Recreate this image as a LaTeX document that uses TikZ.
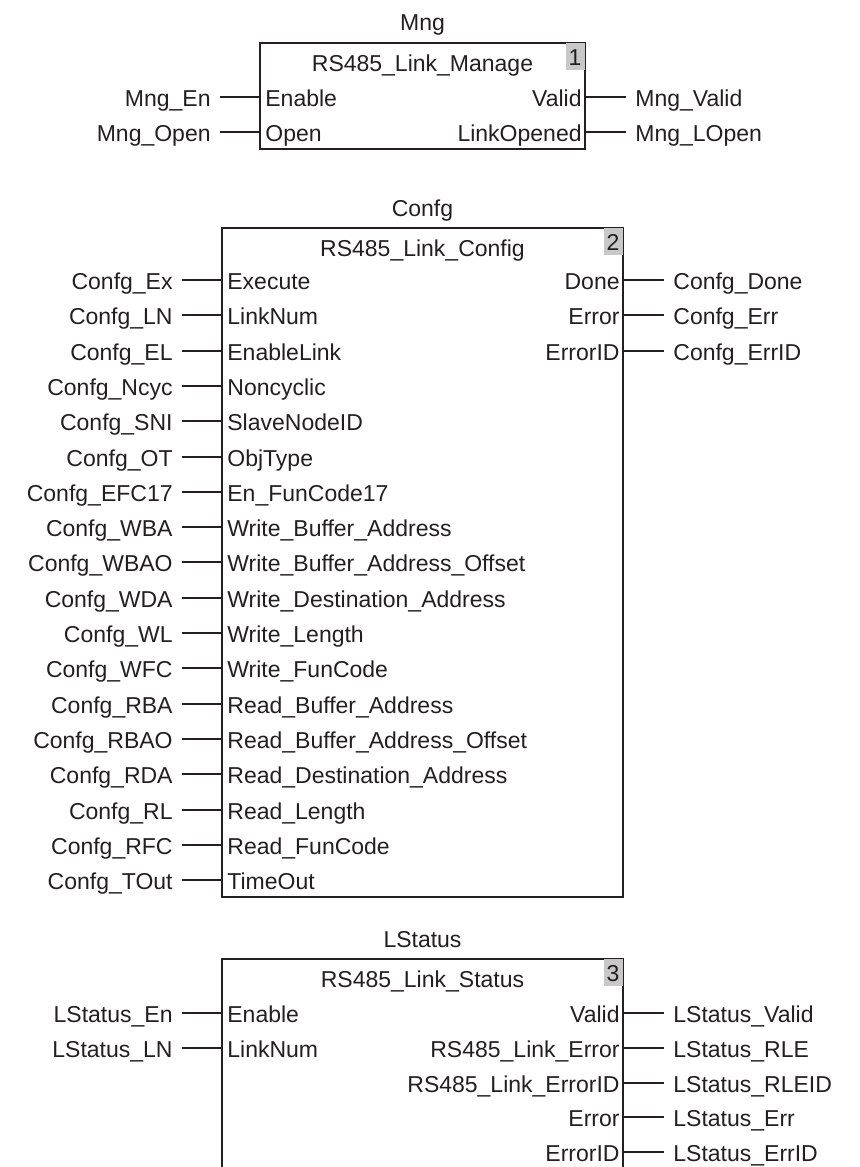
\documentclass[tikz,border=0pt]{standalone}
\usepackage{fontspec}
\setmainfont{Liberation Sans}
\definecolor{fbink}{RGB}{35,31,32}
\definecolor{fbgray}{RGB}{200,200,200}

\begin{document}
\begin{tikzpicture}[x=0.5pt,y=-0.5pt,
  fbtext/.style={font=\fontsize{11.5}{13}\selectfont,text=fbink,text height=9pt,text depth=0pt,inner ysep=0pt},
  fbin/.style={fbtext,anchor=east,inner xsep=4.5pt},
  fbout/.style={fbtext,anchor=west,inner xsep=4.5pt},
  fbpinL/.style={fbtext,anchor=west,inner xsep=2.5pt},
  fbpinR/.style={fbtext,anchor=east,inner xsep=1.5pt},
  fblock/.style={draw=fbink,line width=1pt,inner sep=0pt},
  fbnum/.style={fbtext,fill=fbgray,minimum width=9.5pt,minimum height=13.5pt,inner sep=0pt,anchor=north east},
  wire/.style={draw=fbink,line width=0.8pt}]
  \useasboundingbox (0,0) rectangle (859,1167);
  \clip (0,0) rectangle (859,1167);

  % block 1: Mng
  \node[fblock,minimum width=162.5pt,minimum height=53pt] (mng) at (422.5,96) {};
  \node[fbtext] (mngT) at (422.5,22) {Mng};
  \node[fbtext] (mngH) at (422.5,62) {RS485\_Link\_Manage};
  \node[fbnum] (mngN) at ([xshift=-0.5pt,yshift=-0.5pt]mng.north east) {1};
  \foreach \lbl/\pin [count=\i, evaluate=\i as \y using 97+35*(\i-1)] in
    {Mng\_En/Enable, Mng\_Open/Open} {
    \node[fbin] (mngIn\i) at (220,\y) {\lbl};
    \node[fbpinL] (mngPinL\i) at (260,\y) {\pin};
    \draw[wire] (mngIn\i.east) -- (mngPinL\i.west);
  }
  \foreach \lbl/\pin [count=\i, evaluate=\i as \y using 97+35*(\i-1)] in
    {Mng\_Valid/Valid, Mng\_LOpen/LinkOpened} {
    \node[fbpinR] (mngPinR\i) at (585,\y) {\pin};
    \node[fbout] (mngOut\i) at (626,\y) {\lbl};
    \draw[wire] (mngPinR\i.east) -- (mngOut\i.west);
  }

  % block 2: Confg
  \node[fblock,minimum width=200.5pt,minimum height=334.5pt] (cfg) at (422.5,562.5) {};
  \node[fbtext] (cfgT) at (422.5,207) {Confg};
  \node[fbtext] (cfgH) at (422.5,247) {RS485\_Link\_Config};
  \node[fbnum] (cfgN) at ([xshift=-0.5pt,yshift=-0.5pt]cfg.north east) {2};
  \foreach \lbl/\pin [count=\i, evaluate=\i as \y using round(280+35.3*(\i-1))] in
    {Confg\_Ex/Execute, Confg\_LN/LinkNum, Confg\_EL/EnableLink, Confg\_Ncyc/Noncyclic,
     Confg\_SNI/SlaveNodeID, Confg\_OT/ObjType, Confg\_EFC17/En\_FunCode17,
     Confg\_WBA/Write\_Buffer\_Address, Confg\_WBAO/Write\_Buffer\_Address\_Offset,
     Confg\_WDA/Write\_Destination\_Address, Confg\_WL/Write\_Length,
     Confg\_WFC/Write\_FunCode, Confg\_RBA/Read\_Buffer\_Address,
     Confg\_RBAO/Read\_Buffer\_Address\_Offset, Confg\_RDA/Read\_Destination\_Address,
     Confg\_RL/Read\_Length, Confg\_RFC/Read\_FunCode, Confg\_TOut/TimeOut} {
    \node[fbin] (cfgIn\i) at (182,\y) {\lbl};
    \node[fbpinL] (cfgPinL\i) at (222,\y) {\pin};
    \draw[wire] (cfgIn\i.east) -- (cfgPinL\i.west);
  }
  \foreach \lbl/\pin [count=\i, evaluate=\i as \y using round(280+35.3*(\i-1))] in
    {Confg\_Done/Done, Confg\_Err/Error, Confg\_ErrID/ErrorID} {
    \node[fbpinR] (cfgPinR\i) at (623,\y) {\pin};
    \node[fbout] (cfgOut\i) at (664,\y) {\lbl};
    \draw[wire] (cfgPinR\i.east) -- (cfgOut\i.west);
  }

  % block 3: LStatus (runs off the bottom)
  \node[fblock,minimum width=200.5pt,minimum height=140.5pt] (lst) at (422.5,1099.5) {};
  \node[fbtext] (lstT) at (422.5,938) {LStatus};
  \node[fbtext] (lstH) at (422.5,978) {RS485\_Link\_Status};
  \node[fbnum] (lstN) at ([xshift=-0.5pt,yshift=-0.5pt]lst.north east) {3};
  \foreach \lbl/\pin [count=\i, evaluate=\i as \y using round(1013+34.8*(\i-1))] in
    {LStatus\_En/Enable, LStatus\_LN/LinkNum} {
    \node[fbin] (lstIn\i) at (182,\y) {\lbl};
    \node[fbpinL] (lstPinL\i) at (222,\y) {\pin};
    \draw[wire] (lstIn\i.east) -- (lstPinL\i.west);
  }
  \foreach \lbl/\pin [count=\i, evaluate=\i as \y using round(1013+34.8*(\i-1))] in
    {LStatus\_Valid/Valid, LStatus\_RLE/RS485\_Link\_Error, LStatus\_RLEID/RS485\_Link\_ErrorID,
     LStatus\_Err/Error, LStatus\_ErrID/ErrorID} {
    \node[fbpinR] (lstPinR\i) at (623,\y) {\pin};
    \node[fbout] (lstOut\i) at (664,\y) {\lbl};
    \draw[wire] (lstPinR\i.east) -- (lstOut\i.west);
  }
\end{tikzpicture}
\end{document}
